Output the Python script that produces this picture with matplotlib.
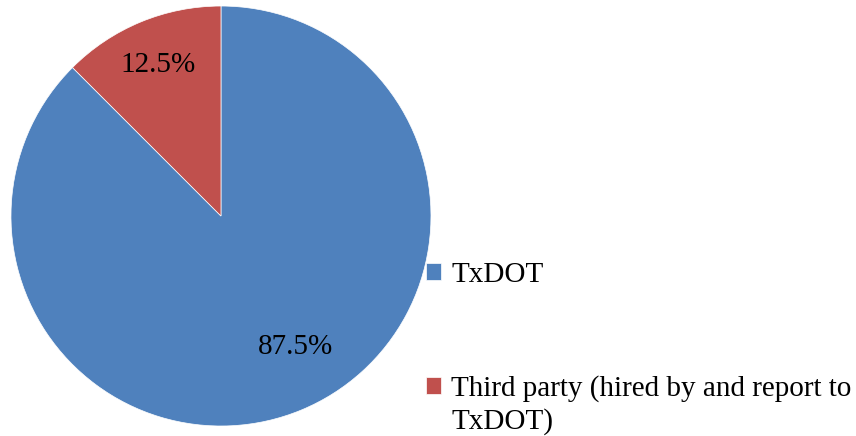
import numpy as np
import matplotlib.pyplot as plt

# data
labels = ["TxDOT", "Third party (hired by and report to"]
label_cont = "TxDOT)"
shares = [87.5, 12.5]
colors = ["#4F81BD", "#C0504D"]

plt.rcParams["font.family"] = ["Liberation Serif", "DejaVu Serif"]

fig = plt.figure(figsize=(8.56, 4.36), dpi=100)
ax = fig.add_axes([0.0128, 0.0229, 0.4907, 0.9633])

wedges, _, pcts = ax.pie(
    shares, colors=colors, startangle=90, counterclock=False,
    autopct="%.1f%%", pctdistance=0.78,
    wedgeprops=dict(edgecolor="white", linewidth=0.5),
    textprops=dict(fontsize=21, color="black"),
)
ax.set_xlim(-1, 1)
ax.set_ylim(-1, 1)
ax.set_aspect("equal")

# nudge the big slice label a bit toward the right like the original
ang = np.deg2rad(-60.5)
pcts[0].set_position((0.716 * np.cos(ang), 0.716 * np.sin(ang)))

leg = fig.legend(
    wedges, labels, loc="upper left", bbox_to_anchor=(0.498, 0.40),
    frameon=False, fontsize=21, handlelength=0.5, handleheight=0.5,
    handletextpad=0.35, labelspacing=3.0, borderpad=0, borderaxespad=0,
)

# second line of the wrapped label
fig.canvas.draw()
bb = leg.get_texts()[1].get_window_extent().transformed(fig.transFigure.inverted())
fig.text(bb.x0, bb.y0 - 0.013, label_cont, fontsize=21, va="top", ha="left")

fig.savefig("out.png", dpi=100)
